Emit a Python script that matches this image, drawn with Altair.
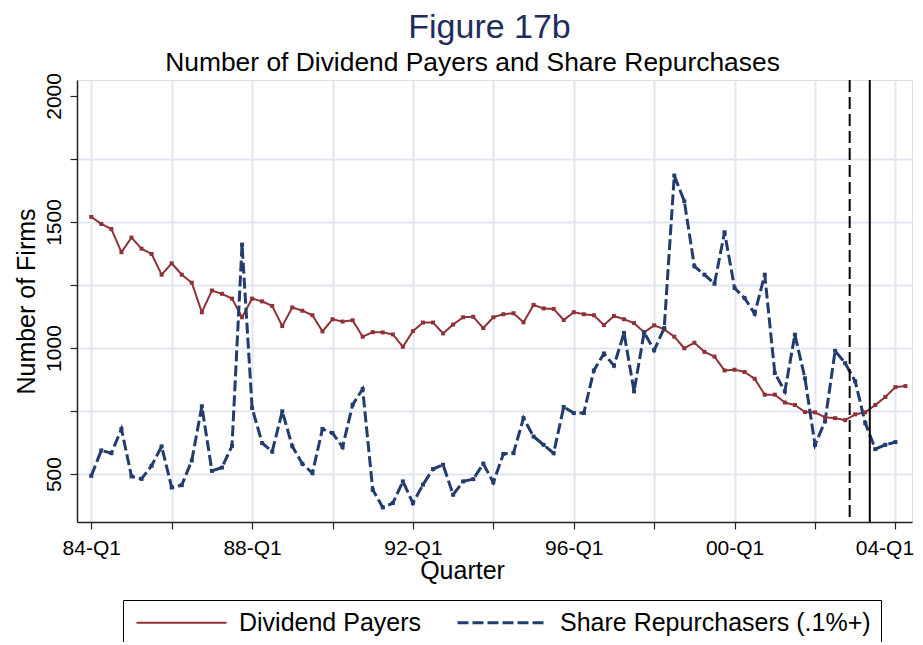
import json
import altair as alt
import pandas as pd

# ---------------- data ----------------
quarter_index = list(range(82))  # 0 = 1984-Q1
dividend_payers = [
    1520, 1492, 1472, 1380, 1438, 1394, 1373, 1291, 1336, 1291,
    1259, 1142, 1228, 1215, 1196, 1122, 1196, 1185, 1167, 1087,
    1161, 1148, 1130, 1066, 1114, 1105, 1110, 1045, 1063, 1062,
    1054, 1005, 1067, 1101, 1101, 1058, 1093, 1122, 1124, 1079,
    1122, 1134, 1138, 1102, 1171, 1157, 1155, 1111, 1142, 1134,
    1130, 1091, 1127, 1114, 1099, 1062, 1090, 1074, 1045, 999,
    1021, 985, 966, 911, 914, 905, 878, 815, 815, 784,
    774, 746, 745, 725, 722, 714, 737, 745, 774, 806,
    845, 849,
]
share_repurchasers = [
    493, 594, 583, 679, 491, 481, 533, 610, 447, 456,
    554, 769, 513, 526, 612, 1410, 762, 623, 589, 749,
    610, 541, 504, 679, 663, 607, 775, 837, 438, 368,
    385, 471, 385, 458, 520, 537, 418, 471, 480, 541,
    467, 580, 583, 722, 649, 616, 583, 766, 742, 742,
    911, 978, 930, 1060, 828, 1062, 991, 1079, 1684, 1582,
    1324, 1291, 1255, 1459, 1238, 1198, 1136, 1291, 901, 828,
    1053, 880, 616, 709, 989, 940, 868, 702, 599, 616,
    627,
]
series_names = ["Dividend Payers", "Share Repurchasers (.1%+)"]
series_colors = ["#8f3138", "#213c6d"]
x_tick_labels = ["84-Q1", "88-Q1", "92-Q1", "96-Q1", "00-Q1", "04-Q1"]
y_tick_values = [500, 750, 1000, 1250, 1500, 1750, 2000]
event_q = [75.45, 77.45]
event_style = ["dashed", "solid"]
title_text = "Figure 17b"
subtitle_text = "Number of Dividend Payers and Share Repurchases"

# ---------------- tables ----------------
rows = []
for q, v in zip(quarter_index, dividend_payers):
    rows.append({"q": q, "firms": v, "series": series_names[0]})
for q, v in zip(quarter_index, share_repurchasers):
    rows.append({"q": q, "firms": v, "series": series_names[1]})
df = pd.DataFrame(rows)
ev = pd.DataFrame({"q": event_q, "style": event_style})

FONT = "Liberation Sans"
W, H = 835, 442

x_scale = alt.Scale(domain=[-1.42, 81.65], nice=False, zero=False)
y_scale = alt.Scale(domain=[310, 2063], nice=False, zero=False)

x_label_expr = ("datum.value % 16 == 0 ? " + json.dumps(x_tick_labels)
                + "[datum.value / 16] : ''")

x_axis = alt.Axis(
    values=list(range(0, 81, 8)), labelExpr=x_label_expr, title="Quarter",
    grid=True, gridColor="#e2e6ef", gridWidth=2,
    domainColor="#222222", domainWidth=1.5, tickColor="#222222", tickWidth=1.2,
    tickSize=7, labelFontSize=21, titleFontSize=25, labelPadding=8,
    labelOffset={"condition": {"test": "datum.value == 80", "value": -11}, "value": 0},
    titlePadding=0, titleX=385, labelFlush=False, labelOverlap=False,
    labelColor="black", titleColor="black", labelFont=FONT, titleFont=FONT,
    titleFontWeight="normal",
)
# top axis carries only the subtitle text (no domain, ticks, labels or grid)
top_axis = alt.Axis(
    orient="top", title=subtitle_text, labels=False, ticks=False, domain=False,
    grid=False, titleX=395, titleY=-10, titleAlign="center",
    titleBaseline="alphabetic", titleAngle=0, titleFontSize=26.4, titleFont=FONT,
    titleFontWeight="normal", titleColor="black",
)
y_axis = alt.Axis(
    values=y_tick_values, format="d",
    labelExpr="datum.value % 500 == 0 ? datum.label : ''",
    title="Number of Firms", grid=True, gridColor="#e2e6ef", gridWidth=2,
    gridOpacity={"condition": {"test": "datum.value == 2000", "value": 0}, "value": 1},
    domainColor="#222222", domainWidth=1.5, tickColor="#222222", tickWidth=1.2,
    tickSize=7, labelFontSize=21, titleFontSize=25, labelAngle=270,
    labelAlign="center", labelBaseline="alphabetic", labelPadding=10,
    titlePadding=4, labelColor="black", titleColor="black",
    labelFont=FONT, titleFont=FONT, titleFontWeight="normal",
)

legend = alt.Legend(
    title=None, orient="none", legendX=46, legendY=520, direction="horizontal",
    symbolType="M-5,0L5,0", symbolSize=324, symbolStrokeWidth=2.5,
    symbolOffset=36, labelOffset=45,
    labelFontSize=25, labelFont=FONT, labelColor="black",
    strokeColor="black", fillColor="white", padding=10, columnPadding=29,
    labelLimit=400,
)

lines = alt.Chart(df).mark_line(
    point=alt.OverlayMarkDef(size=16, filled=True, shape="square")
).encode(
    x=alt.X("q:Q", scale=x_scale, axis=x_axis),
    y=alt.Y("firms:Q", scale=y_scale, axis=y_axis),
    color=alt.Color("series:N", scale=alt.Scale(domain=series_names, range=series_colors),
                    legend=legend),
    strokeDash=alt.StrokeDash("series:N",
                              scale=alt.Scale(domain=series_names, range=[[1, 0], [11, 4]]),
                              legend=legend),
    strokeWidth=alt.StrokeWidth("series:N",
                                scale=alt.Scale(domain=series_names, range=[2, 3]),
                                legend=None),
    order="q:Q",
)

dashed_rule = alt.Chart(ev).transform_filter(alt.datum.style == "dashed").mark_rule(
    color="black", strokeWidth=2, strokeDash=[12, 5]
).encode(x=alt.X("q:Q", scale=x_scale, axis=None))
solid_rule = alt.Chart(ev).transform_filter(alt.datum.style == "solid").mark_rule(
    color="black", strokeWidth=2
).encode(x=alt.X("q:Q", scale=x_scale, axis=top_axis))

chart = alt.layer(lines, dashed_rule, solid_rule).resolve_axis(
    x="independent"
).properties(
    width=W, height=H,
    title=alt.TitleParams(
        text=title_text, fontSize=34, color="#1f2d5c", font=FONT,
        fontWeight="normal", anchor="middle", frame="group",
        baseline="alphabetic", offset=-23, dx=-5,
    ),
    autosize=alt.AutoSizeParams(type="none"),
    padding={"left": 69, "top": 72, "right": 3, "bottom": 120},
).configure_view(stroke=None).configure(background="white")

chart.save("out.html", embed_options={"renderer": "svg", "actions": False})
